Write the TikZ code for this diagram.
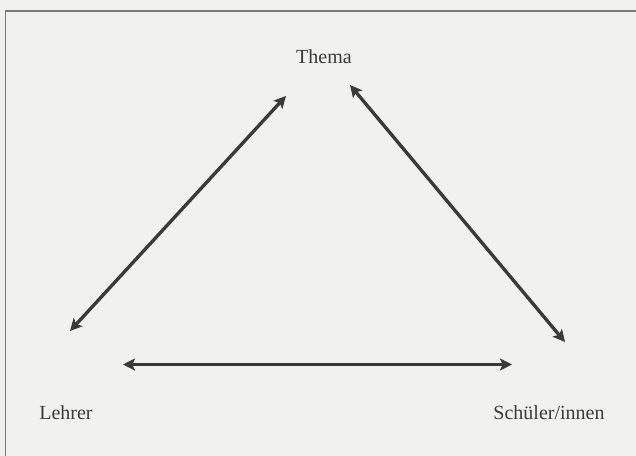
\documentclass[tikz,border=0pt]{standalone}
\usepackage{fontspec}
\setmainfont{Liberation Serif}
\usetikzlibrary{arrows.meta}
\definecolor{paper}{HTML}{F1F1EF}
\definecolor{ink}{HTML}{3A3A3A}
\definecolor{frame}{HTML}{7A7A7A}
\tikzset{
  lbl/.style={text=ink, font=\fontsize{15}{17}\selectfont, inner sep=0pt},
  dbl/.style={draw=ink, line width=2.5pt, {Stealth[length=9pt,width=9pt,inset=2pt]}-{Stealth[length=9pt,width=9pt,inset=2pt]}}
}
\begin{document}
\begin{tikzpicture}[x=0.75pt,y=-0.75pt]
\fill[paper] (0,0) rectangle (636,456);
\useasboundingbox (0,0) rectangle (636,456);
\draw[frame, line width=0.8pt] (5.5,456) -- (5.5,11) -- (636,11);
\node[lbl] (thema) at (324,57) {Thema};
\node[lbl] (lehrer) at (66,413) {Lehrer};
\node[lbl] (schueler) at (549,413) {Schüler/innen};
\coordinate (a1) at (70,331);
\coordinate (a2) at (286,96);
\coordinate (b1) at (350,85);
\coordinate (b2) at (565,342);
\coordinate (c1) at (123,364.5);
\coordinate (c2) at (512,364.5);
\draw[dbl] (a1) -- (a2);
\draw[dbl] (b1) -- (b2);
\draw[dbl] (c1) -- (c2);
\end{tikzpicture}
\end{document}
